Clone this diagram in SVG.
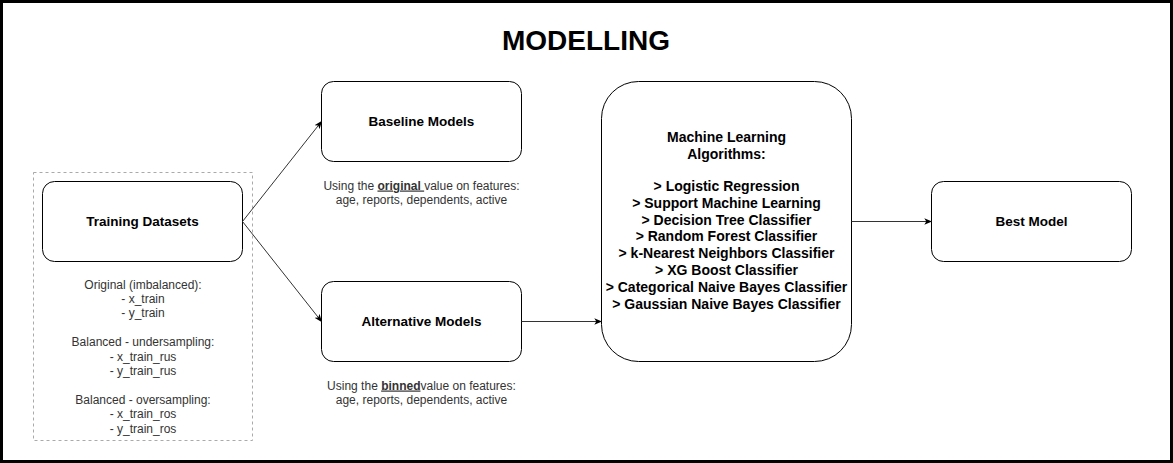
<svg xmlns="http://www.w3.org/2000/svg" width="1173" height="463" viewBox="0 0 1173 463">
<style>
.node{fill:#fff;stroke:#000;stroke-width:1}
.lbl{font-family:"Liberation Sans",Arial,sans-serif;font-size:13.5px;font-weight:bold;fill:#000;text-anchor:middle}
.ml{font-family:"Liberation Sans",Arial,sans-serif;font-size:14px;font-weight:bold;fill:#000;text-anchor:middle}
.note{font-family:"Liberation Sans",Arial,sans-serif;font-size:12px;fill:#333;text-anchor:middle}
.conn{fill:none;stroke:#333;stroke-width:1}
.u{font-weight:bold;text-decoration:underline}
</style>
<defs>
<marker id="arr" viewBox="0 0 10 10" refX="9" refY="5" markerWidth="8" markerHeight="8" markerUnits="userSpaceOnUse" orient="auto">
<path d="M0,1 L10,5 L0,9 L2.5,5 Z" fill="#000"/>
</marker>
</defs>
<rect x="1.5" y="1.5" width="1170" height="460" fill="#fff" stroke="#000" stroke-width="3"/>
<text x="586" y="50" font-family="'Liberation Sans',Arial,sans-serif" font-size="28" font-weight="bold" text-anchor="middle">MODELLING</text>
<g id="datasets-group">
<rect x="33.5" y="172.5" width="219" height="268" fill="none" stroke="#aaa" stroke-dasharray="3,3"/>
<text class="note"><tspan x="143" y="288.5">Original (imbalanced):</tspan><tspan x="143" y="302.9">- x_train</tspan><tspan x="143" y="317.3">- y_train</tspan><tspan x="143" y="346.1">Balanced - undersampling:</tspan><tspan x="143" y="360.5">- x_train_rus</tspan><tspan x="143" y="374.9">- y_train_rus</tspan><tspan x="143" y="403.7">Balanced - oversampling:</tspan><tspan x="143" y="418.1">- x_train_ros</tspan><tspan x="143" y="432.5">- y_train_ros</tspan></text>
</g>
<g id="training">
<rect class="node" x="42.5" y="181.5" width="200" height="80" rx="12"/>
<text class="lbl" x="142.5" y="226">Training Datasets</text>
</g>
<g id="baseline">
<rect class="node" x="321.5" y="81.5" width="200" height="80" rx="12"/>
<text class="lbl" x="421.5" y="126">Baseline Models</text>
<text class="note"><tspan x="421.5" y="189.5">Using the <tspan class="u">original </tspan>value on features:</tspan><tspan x="421.5" y="204">age, reports, dependents, active</tspan></text>
</g>
<g id="alternative">
<rect class="node" x="321.5" y="281.5" width="200" height="80" rx="12"/>
<text class="lbl" x="421.5" y="326">Alternative Models</text>
<text class="note"><tspan x="421.5" y="389.5">Using the <tspan class="u">binned</tspan>value on features:</tspan><tspan x="421.5" y="404">age, reports, dependents, active</tspan></text>
</g>
<g id="ml">
<rect class="node" x="601.5" y="81.5" width="250" height="280" rx="37"/>
<text class="ml"><tspan x="726.5" y="142">Machine Learning</tspan><tspan x="726.5" y="158.8">Algorithms:</tspan><tspan x="726.5" y="191">&gt; Logistic Regression</tspan><tspan x="726.5" y="207.8">&gt; Support Machine Learning</tspan><tspan x="726.5" y="224.6">&gt; Decision Tree Classifier</tspan><tspan x="726.5" y="241.4">&gt; Random Forest Classifier</tspan><tspan x="726.5" y="258.2">&gt; k-Nearest Neighbors Classifier</tspan><tspan x="726.5" y="275">&gt; XG Boost Classifier</tspan><tspan x="726.5" y="291.8">&gt; Categorical Naive Bayes Classifier</tspan><tspan x="726.5" y="308.6">&gt; Gaussian Naive Bayes Classifier</tspan></text>
</g>
<g id="best">
<rect class="node" x="931.5" y="181.5" width="200" height="80" rx="12"/>
<text class="lbl" x="1031.5" y="226">Best Model</text>
</g>
<g id="connectors">
<path class="conn" d="M242.5,221.5 L321.5,121.5" marker-end="url(#arr)"/>
<path class="conn" d="M242.5,221.5 L321.5,321.5" marker-end="url(#arr)"/>
<path class="conn" d="M521.5,321.5 L601.5,321.5" marker-end="url(#arr)"/>
<path class="conn" d="M851.5,221.5 L931.5,221.5" marker-end="url(#arr)"/>
</g>
</svg>
